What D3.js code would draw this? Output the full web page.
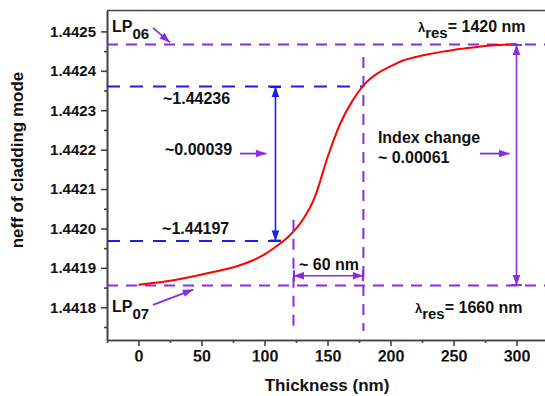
<!DOCTYPE html>
<html>
<head>
<meta charset="utf-8">
<script src="https://cdn.jsdelivr.net/npm/d3@7/dist/d3.min.js"></script>
<style>
  body { margin: 0; background: #fff; }
  text { font-family: "Liberation Sans", Arial, sans-serif; font-weight: bold; fill: #111; }
</style>
</head>
<body>
<svg width="545" height="396"></svg>
<script>
// ---------------------------------------------------------------
// Data: effective index vs coating thickness
// ---------------------------------------------------------------
const thickness = [0, 10, 20, 30, 40, 50, 60, 70, 80, 90, 100, 110, 120, 130, 140, 150,
                   160, 170, 180, 190, 200, 210, 220, 230, 240, 250, 260, 270, 280, 290, 300];
const neff = [1.441857, 1.441861, 1.441865, 1.441870, 1.441876, 1.441883, 1.441890, 1.441897,
              1.441906, 1.441918, 1.441934, 1.441956, 1.441982, 1.442020, 1.442080, 1.442180,
              1.442265, 1.442325, 1.442368, 1.442394, 1.442411, 1.442426, 1.442435, 1.442442,
              1.442448, 1.442453, 1.442457, 1.442461, 1.442464, 1.442466, 1.442468];

const xTicks = [0, 50, 100, 150, 200, 250, 300];
const xMinor = [-25, 25, 75, 125, 175, 225, 275, 325];
const yTicks = [1.4418, 1.4419, 1.4420, 1.4421, 1.4422, 1.4423, 1.4424, 1.4425];
const yTickLabels = ["1.4418", "1.4419", "1.4420", "1.4421", "1.4422", "1.4423", "1.4424", "1.4425"];
const yMinor = [1.44175, 1.44185, 1.44195, 1.44205, 1.44215, 1.44225, 1.44235, 1.44245];

// reference levels (neff) and thicknesses
const lp06Level  = 1.442467,
      lp07Level  = 1.441855,
      upperLevel = 1.44236,
      lowerLevel = 1.441968,
      widthStart = 123,
      widthEnd   = 178.5,
      blueArrowX = 108.7,
      endX       = 300;

const PURPLE = "#8a2be2",
      BLUE   = "#1c1cf5",
      RED    = "#ff0000",
      AXIS   = "#444";

let svg = d3.select("svg"),
    x   = d3.scaleLinear().domain([-25, 325]).range([107, 548]),
    y   = d3.scaleLinear().domain([1.441717, 1.442553]).range([340, 10.5]);

// arrow markers: plain triangle, and triangle with an end bar
let defs = svg.append("defs");
function addMarker(id, color, bar) {
  let m = defs.append("marker")
    .attr("id", id)
    .attr("markerUnits", "userSpaceOnUse")
    .attr("viewBox", "0 0 12 12")
    .attr("refX", 11.5).attr("refY", 6)
    .attr("markerWidth", 12).attr("markerHeight", 12)
    .attr("orient", "auto-start-reverse");
  m.append("path").attr("d", "M1,2.2 L11.5,6 L1,9.8 Z").attr("fill", color);
  if (bar) m.append("path").attr("d", "M11,0.5 L11,11.5").attr("stroke", color).attr("stroke-width", 2);
}
addMarker("headP", PURPLE, false);
addMarker("barP", PURPLE, true);
addMarker("barB", BLUE, true);

// clip for the x tick labels (they are cut at the bottom in the figure)
defs.append("clipPath").attr("id", "xclip")
  .append("rect").attr("x", -50).attr("y", -400).attr("width", 700).attr("height", 421.5);

// ---------------- axes and frame ----------------
let gx = svg.append("g").attr("transform", "translate(0,340)").attr("clip-path", "url(#xclip)");
gx.call(d3.axisBottom(x).tickValues(xTicks).tickSize(6).tickSizeOuter(0).tickPadding(6));
svg.append("g").attr("transform", "translate(0,340)")
  .call(d3.axisBottom(x).tickValues(xMinor).tickSize(3).tickSizeOuter(0).tickFormat(""));

let gy = svg.append("g").attr("transform", "translate(107,0)");
gy.call(d3.axisLeft(y).tickValues(yTicks).tickSize(6).tickSizeOuter(0).tickPadding(5)
  .tickFormat((d, i) => yTickLabels[i]));
svg.append("g").attr("transform", "translate(107,0)")
  .call(d3.axisLeft(y).tickValues(yMinor).tickSize(3).tickSizeOuter(0).tickFormat(""));

svg.selectAll(".domain, .tick line").attr("stroke", AXIS).attr("stroke-width", 1.6);
svg.selectAll(".tick text").style("font-size", "15px").attr("fill", "#111");
gx.selectAll(".tick text").style("font-size", "16px").attr("dy", "0.62em");

// top and right frame lines
svg.append("line").attr("x1", x(-25)).attr("x2", x(325)).attr("y1", y.range()[1]).attr("y2", y.range()[1])
  .attr("stroke", AXIS).attr("stroke-width", 1.6);
svg.append("line").attr("x1", x(325)).attr("x2", x(325)).attr("y1", y.range()[1]).attr("y2", y.range()[0])
  .attr("stroke", AXIS).attr("stroke-width", 1.6);

// axis titles
svg.append("text").attr("x", 327).attr("y", 391).attr("text-anchor", "middle")
  .style("font-size", "17px").text("Thickness (nm)");
svg.append("text").attr("transform", "translate(23,160) rotate(-90)").attr("text-anchor", "middle")
  .style("font-size", "17px").text("neff of cladding mode");

// ---------------- guide lines ----------------
function hline(level, x0, x1, color, dash) {
  svg.append("line").attr("x1", x(x0)).attr("x2", x(x1)).attr("y1", y(level)).attr("y2", y(level))
    .attr("stroke", color).attr("stroke-width", 2).attr("stroke-dasharray", dash);
}
function vline(pos, v0, v1, color, dash) {
  svg.append("line").attr("x1", x(pos)).attr("x2", x(pos)).attr("y1", y(v0)).attr("y2", y(v1))
    .attr("stroke", color).attr("stroke-width", 2).attr("stroke-dasharray", dash);
}
hline(lp06Level, -25, 325, PURPLE, "11,8");
hline(lp07Level, -25, 325, PURPLE, "11,8");
hline(upperLevel, -25, widthEnd, BLUE, "13,10");
hline(lowerLevel, -25, blueArrowX + 4, BLUE, "13,10");
vline(widthStart, 1.442022, 1.441740, PURPLE, "11,8");
vline(widthEnd, 1.442435, 1.441740, PURPLE, "11,8");

// ---------------- curve ----------------
svg.append("path")
  .datum(d3.zip(thickness, neff))
  .attr("fill", "none").attr("stroke", RED).attr("stroke-width", 2)
  .attr("d", d3.line().x(d => x(d[0])).y(d => y(d[1])).curve(d3.curveMonotoneX));

// ---------------- arrows ----------------
function arrow(x0, v0, x1, v1, color, width, mStart, mEnd) {
  let l = svg.append("line").attr("x1", x(x0)).attr("y1", y(v0)).attr("x2", x(x1)).attr("y2", y(v1))
    .attr("stroke", color).attr("stroke-width", width);
  if (mStart) l.attr("marker-start", `url(#${mStart})`);
  if (mEnd) l.attr("marker-end", `url(#${mEnd})`);
}
arrow(blueArrowX, lowerLevel, blueArrowX, upperLevel, BLUE, 1.6, "barB", "barB");
arrow(endX, lp07Level, endX, lp06Level, PURPLE, 1.6, "barP", "barP");
arrow(widthStart, 1.44188, widthEnd, 1.44188, PURPLE, 1.6, "barP", "barP");
arrow(11.5, 1.442509, 25, 1.442472, PURPLE, 1.8, null, "headP");
arrow(80.6, 1.44219, 101.5, 1.44219, PURPLE, 1.8, null, "headP");
arrow(271, 1.44219, 294.5, 1.44219, PURPLE, 1.8, null, "headP");
arrow(11.5, 1.441806, 43.5, 1.441845, PURPLE, 1.8, null, "headP");

// ---------------- labels ----------------
function label(xv, yv, parts) {
  let t = svg.append("text").attr("x", x(xv)).attr("y", y(yv)).style("font-size", "16px");
  parts.forEach(p => {
    t.append("tspan").attr("dy", p.dy || 0).style("font-size", (p.size || 16) + "px").text(p.s);
  });
}
label(-21, 1.4424985, [{s: "LP"}, {s: "06", dy: 7, size: 15}]);
label(-21, 1.441788, [{s: "LP"}, {s: "07", dy: 7, size: 15}]);
label(221.8, 1.4424985, [{s: "\u03bb", size: 13}, {s: "res", dy: 6, size: 15}, {s: "= 1420 nm", dy: -6}]);
label(219.4, 1.441786, [{s: "\u03bb", size: 13}, {s: "res", dy: 6, size: 15}, {s: "= 1660 nm", dy: -6}]);
label(19.4, 1.442316, [{s: "~1.44236"}]);
label(21, 1.442186, [{s: "~0.00039"}]);
label(18.7, 1.441986, [{s: "~1.44197"}]);
label(190, 1.442217, [{s: "Index change"}]);
label(190, 1.442166, [{s: "~ 0.00061"}]);
label(127.4, 1.441895, [{s: "~ 60 nm"}]);
</script>
</body>
</html>
